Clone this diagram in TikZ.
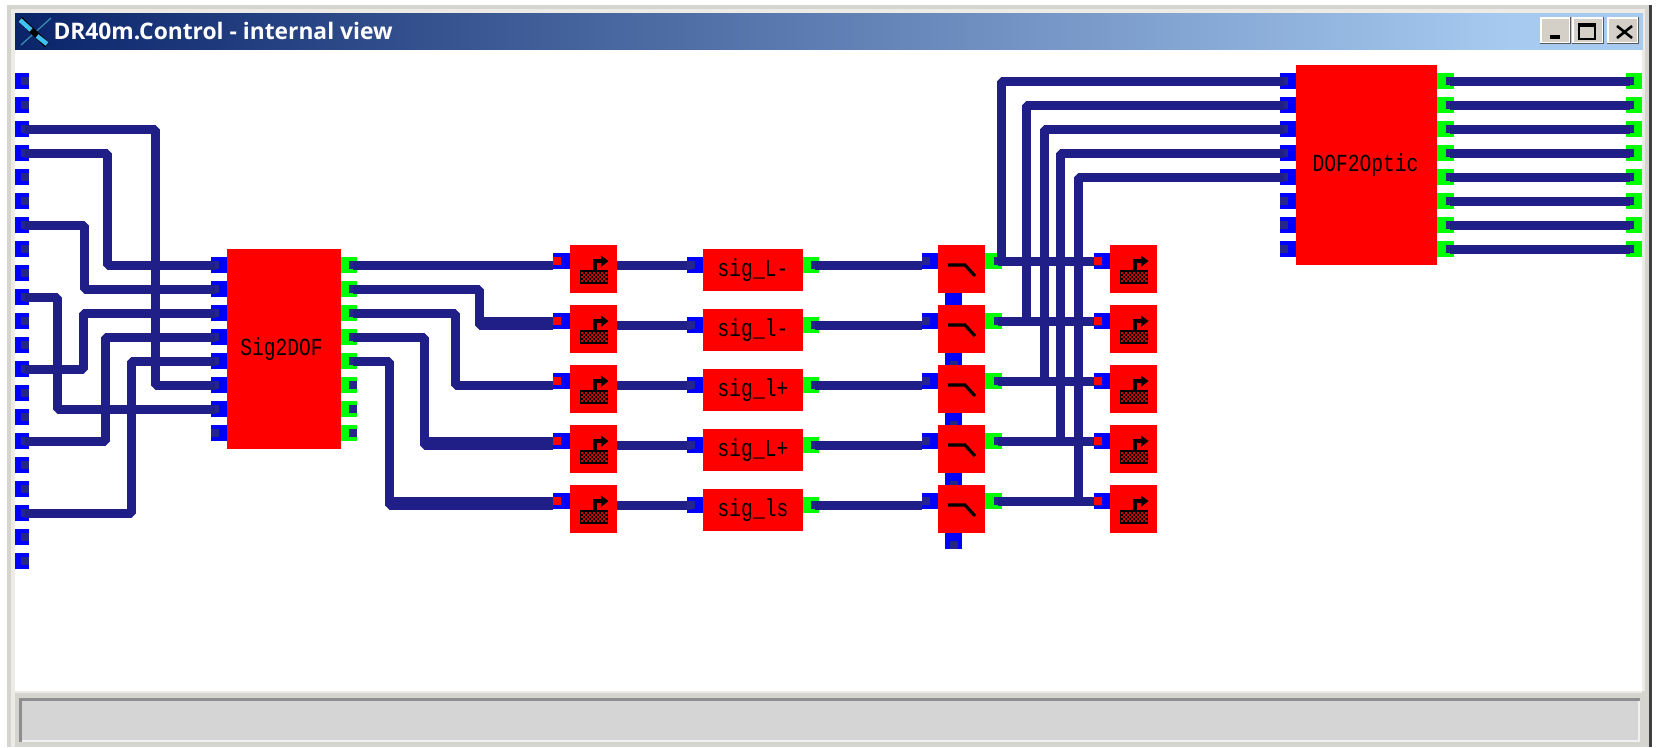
\documentclass[tikz,border=0pt]{standalone}
\usepackage{fontspec}
\newfontfamily\pixfont{Liberation Mono}
\newfontfamily\titlefont{Open Sans}
\definecolor{wirec}{HTML}{1F1F87}
\definecolor{pinc}{HTML}{25258A}
\definecolor{framec}{HTML}{D6D4CE}
\definecolor{frameli}{HTML}{ECEBE6}
\definecolor{btnc}{HTML}{D4D0C8}
\definecolor{statc}{HTML}{D5D5D5}
\definecolor{statd}{HTML}{8E8E8E}
\tikzset{
  boxbase/.style={inner sep=0pt,outer sep=0pt,draw=none},
  portb/.style={boxbase,fill={rgb,255:red,0;green,0;blue,255},minimum width=16.5pt,minimum height=16pt},
  portg/.style={boxbase,fill={rgb,255:red,0;green,255;blue,0},minimum width=16.5pt,minimum height=16pt},
  edgeb/.style={portb,minimum width=14pt},
  pinbox/.style={boxbase,fill=pinc,minimum width=8pt,minimum height=8pt},
  redpin/.style={boxbase,fill={rgb,255:red,255;green,0;blue,0},minimum width=8pt,minimum height=8pt},
  blockbox/.style={boxbase,fill={rgb,255:red,255;green,0;blue,0},text=black,font=\pixfont\fontsize{19.6}{20}\selectfont},
  wire/.style={draw=wirec,line width=9pt,line join=bevel},
}
\newcommand{\pport}[5]{\node[#2] (#1) at (#3,#4) {};\node[pinbox] (#1p) at (#5,#4) {};}
\newcommand{\hvw}[3]{\draw[wire] (#1.center) -- (#2,0 |- #1.center) -- (#2,0 |- #3.center) -- (#3.center);}
\newcommand{\tall}[1]{\scalebox{1}[1.25]{#1}}
\newcommand{\dlyicon}[2]{%
  \begin{scope}[shift={(#1,#2)}]
    \fill[black] (9.5,25) rectangle (37.8,38.5);
    \foreach \a in {0,...,12}{\foreach \b in {0,...,4}{%
      \pgfmathtruncatemacro{\c}{mod(\a+\b,2)}%
      \ifnum\c=0 \fill[red!85!black] (11+2*\a,27+2*\b) rectangle +(1.6,1.6);\fi}}
    \draw[black,line width=4pt] (24.5,25) -- (24.5,16) -- (32,16);
    \fill[black] (31,10.5) -- (38.5,16) -- (31,22) -- cycle;
  \end{scope}}
\begin{document}
\begin{tikzpicture}[x=1pt,y=-1pt]
\useasboundingbox (0,0) rectangle (1657,747);
\fill[white] (0,0) rectangle (1657,747);
% window frame
\fill[framec] (7,5) rectangle (1649,747);
\fill[black!75] (1649,5) rectangle (1652,747);
\fill[frameli] (11,9) rectangle (1645,747);
\fill[framec] (15,691) rectangle (1645,747);
\fill[white] (15,50) rectangle (1642,691);
\fill[frameli] (15,691) rectangle (1642,693);
% title bar
\fill[fill={rgb,255:red,166;green,202;blue,240}] (1500,13) rectangle (1643,49.5);
\shade[left color={rgb,255:red,10;green,36;blue,106},right color={rgb,255:red,166;green,202;blue,240}] (15,13) rectangle (1510,49.5);
\draw[cyan!70!black,line width=1.2pt] (21,45) -- (51,18);
\draw[black,line width=6pt] (20,19) -- (47,45);
\draw[cyan!75!white,line width=4.5pt] (20,20) -- (31,30);
\draw[cyan!75!white,line width=4.5pt] (37,36) -- (47,44);
\node[boxbase,anchor=west,text=white,font=\titlefont\bfseries\fontsize{22.8}{24}\selectfont] (wintitle) at (53.5,31) {DR40m.Control - internal view};
% buttons
\foreach \bx/\bw in {1540/31,1572/32,1607/32}{
  \fill[black!65] (\bx,17) rectangle +(\bw,27);
  \fill[white] (\bx,17) rectangle +(\bw-1.5,25.5);
  \fill[btnc] (\bx+1.5,18.5) rectangle +(\bw-3.5,23.5);
}
\fill[black] (1550,35) rectangle (1560,38.5);
\draw[black,line width=1.8pt] (1579,24.5) rectangle (1595,39);
\fill[black] (1578,23) rectangle (1596,27);
\draw[black,line width=2.6pt] (1617,26) -- (1632,38) (1632,26) -- (1617,38);
% status bar
\fill[statc] (19,698) rectangle (1640,742);
\fill[statd] (19,698) rectangle (1640,701);
\fill[statd] (19,698) rectangle (21.5,742);
\fill[black!6] (21.5,739.5) rectangle (1640,742);
\fill[black!6] (1637.5,701) rectangle (1640,742);
% left edge ports
\foreach \i in {0,...,20}{
  \pport{L\i}{edgeb}{22}{81+24*\i}{25}
}
% Sig2DOF ports and block
\foreach \i in {0,...,7}{
  \pport{SI\i}{portb}{219.25}{265+24*\i}{215}
  \pport{SO\i}{portg}{349}{265+24*\i}{353}
  \pport{DI\i}{portb}{1288}{81+24*\i}{1284}
  \pport{DO\i}{portg}{1445.5}{81+24*\i}{1450}
  \pport{RE\i}{portg}{1634}{81+24*\i}{1630}
}
\node[blockbox,minimum width=114pt,minimum height=200pt] (sigdof) at (284,349) {\hspace*{-5pt}\tall{Sig2DOF}};
\node[blockbox,minimum width=141.5pt,minimum height=200pt] (dofopt) at (1366.5,165) {\hspace*{-2pt}\tall{DOF2Optic}};
% five rows
\foreach \k in {0,...,4}{
  \node[portb] (A\k) at (561.5,261+60*\k) {};
  \node[blockbox,minimum width=47.5pt,minimum height=48pt] (dlya\k) at (593.5,269+60*\k) {};
  \coordinate (Rw\k) at (553,265+60*\k);
  \pport{GI\k}{portb}{695}{265+60*\k}{691}
  \pport{GO\k}{portg}{811}{265+60*\k}{815}
  \pport{WI\k}{portb}{930}{261+60*\k}{926}
  \pport{WO\k}{portg}{993.5}{261+60*\k}{998}
  \node[portb] (WB\k) at (953.7,301+60*\k) {};
  \node[portb] (B\k) at (1102,261+60*\k) {};
  \node[blockbox,minimum width=47.5pt,minimum height=48pt] (dlyb\k) at (1133.5,269+60*\k) {};
  \dlyicon{570}{245+60*\k}
  \dlyicon{1110}{245+60*\k}
}
\foreach \k in {1,...,4}{\node[pinbox] (WBp\k) at (953.7,305+60*\k) {};}
\node[pinbox] (WBend) at (953.7,545) {};
\foreach \k/\t in {0/sig\_L-,1/sig\_l-,2/sig\_l+,3/sig\_L+,4/sig\_ls}{
  \node[blockbox,minimum width=100pt,minimum height=42pt] (gain\k) at (753,270+60*\k) {\tall{\t}};
}
\foreach \k in {0,...,4}{
  \node[blockbox,minimum width=47.5pt,minimum height=48pt] (swit\k) at (961.5,269+60*\k) {};
  \draw[black,line width=3.2pt] (948,265+60*\k) -- (965,265+60*\k) -- (975,276+60*\k);
}
% wires: inputs of Sig2DOF
\hvw{L2p}{155}{SI5p}
\hvw{L3p}{107}{SI0p}
\hvw{L6p}{84}{SI1p}
\hvw{L9p}{57}{SI6p}
\hvw{L12p}{83}{SI2p}
\hvw{L15p}{105}{SI3p}
\hvw{L18p}{131}{SI4p}
% wires: outputs of Sig2DOF
\draw[wire] (SO0p.center) -- (Rw0.center);
\hvw{SO1p}{479.3}{Rw1}
\hvw{SO2p}{455.7}{Rw2}
\hvw{SO3p}{424}{Rw3}
\hvw{SO4p}{389}{Rw4}
\foreach \k/\bxx in {1/479.3,3/424,4/389}{
  \draw[draw=wirec,line width=8pt] (\bxx,261+60*\k) -- (553,261+60*\k);
}
% rows
\foreach \k in {0,...,4}{
  \draw[wire] (dlya\k.east |- GI\k p.center) -- (GI\k p.center);
  \draw[wire] (GO\k p.center) -- (GO\k p.center -| WI\k p.west);
  \draw[wire] (WO\k p.center) -- (B\k.center);
  \node[pinbox] (GIq\k) at (GI\k p) {};
  \node[pinbox] (WIq\k) at (WI\k p) {};
  \node[redpin] (Ared\k) at (557,261+60*\k) {};
  \node[redpin] (Bred\k) at (1098,261+60*\k) {};
}
% wires: to DOF2Optic
\foreach \k/\vx in {0/1001.5,1/1026,2/1044,3/1060,4/1078}{
  \draw[wire] (\vx,0 |- WO\k p.center) -- (\vx,0 |- DI\k p.center) -- (DI\k p.center);
}
\foreach \i in {0,...,7}{
  \draw[wire] (DO\i p.center) -- (RE\i p.center);
}
\end{tikzpicture}
\end{document}
